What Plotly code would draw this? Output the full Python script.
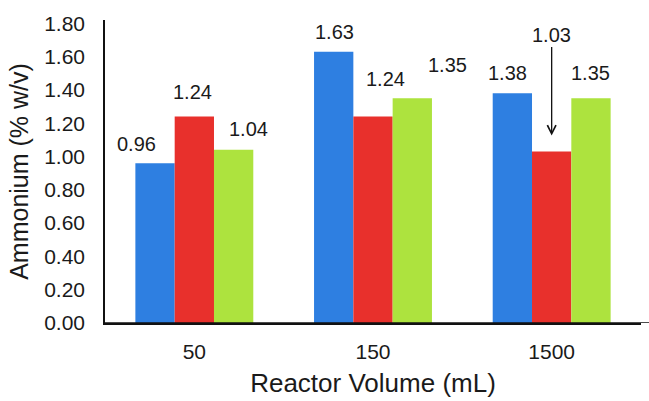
import plotly.graph_objects as go

# ---- data ----
categories = ["50", "150", "1500"]
series_a = [0.96, 1.63, 1.38]   # blue
series_b = [1.24, 1.24, 1.03]   # red
series_c = [1.04, 1.35, 1.35]   # green
y_ticks = [0.0, 0.2, 0.4, 0.6, 0.8, 1.0, 1.2, 1.4, 1.6, 1.8]

# ---- style ----
colors = ["#2E7FE1", "#E8302C", "#ADE33E"]
FONT = "Liberation Sans, Arial, sans-serif"
TXT = "#1a1a1a"
BARGAP = 0.34
bar_w = (1 - BARGAP) / 3

# label offsets (pixels): (dx, dy above bar top) per series per category
label_shift = [
    [(-19, 19), (1, 20), (-5, 20)],
    [(-2, 25), (12, 38), None],
    [(15, 21), (35, 33), (0, 25)],
]

fig = go.Figure()
all_series = [series_a, series_b, series_c]
for j, vals in enumerate(all_series):
    fig.add_trace(go.Bar(
        x=categories, y=vals, marker=dict(color=colors[j], line=dict(width=0)),
        showlegend=False, hoverinfo="skip",
    ))

annotations = []
for j, vals in enumerate(all_series):
    for i, v in enumerate(vals):
        xpos = i + (j - 1) * bar_w
        sh = label_shift[j][i]
        if sh is None:
            annotations.append(dict(
                x=xpos, y=v, xref="x", yref="y", text=f"{v:.2f}",
                showarrow=True, ax=0, ay=-117, arrowhead=5, arrowsize=1.3,
                arrowwidth=1.3, arrowcolor="#111", standoff=16,
                font=dict(family=FONT, size=20, color=TXT),
            ))
        else:
            annotations.append(dict(
                x=xpos, y=v, xref="x", yref="y", text=f"{v:.2f}",
                showarrow=False, xanchor="center", yanchor="middle",
                xshift=sh[0], yshift=sh[1],
                font=dict(family=FONT, size=20, color=TXT),
            ))

fig.update_layout(
    width=649, height=401,
    margin=dict(l=105, r=8, t=20, b=72),
    paper_bgcolor="white", plot_bgcolor="white",
    barmode="group", bargap=BARGAP, bargroupgap=0,
    font=dict(family=FONT, color=TXT),
    annotations=annotations,
    shapes=[dict(type="line", xref="paper", yref="y", x0=0, x1=1.02, y0=0, y1=0,
                 line=dict(color="#111", width=1.5))],
)
fig.update_xaxes(
    type="category", range=[-0.5, 2.5],
    showline=True, linecolor="#111", linewidth=1.5,
    ticks="", showgrid=False, zeroline=False,
    tickfont=dict(family=FONT, size=21, color=TXT),
    ticklabelstandoff=9,
    title=dict(text="Reactor Volume (mL)", font=dict(family=FONT, size=26, color=TXT), standoff=12),
)
fig.update_yaxes(
    range=[0, 1.82], tickvals=y_ticks, tickformat=".2f",
    showline=True, linecolor="#111", linewidth=1.5,
    ticks="", showgrid=False, zeroline=False,
    tickfont=dict(family=FONT, size=21, color=TXT),
    ticklabelstandoff=14,
    title=dict(text="Ammonium (% w/v)", font=dict(family=FONT, size=25, color=TXT), standoff=8),
)

fig.write_html("out.html")
